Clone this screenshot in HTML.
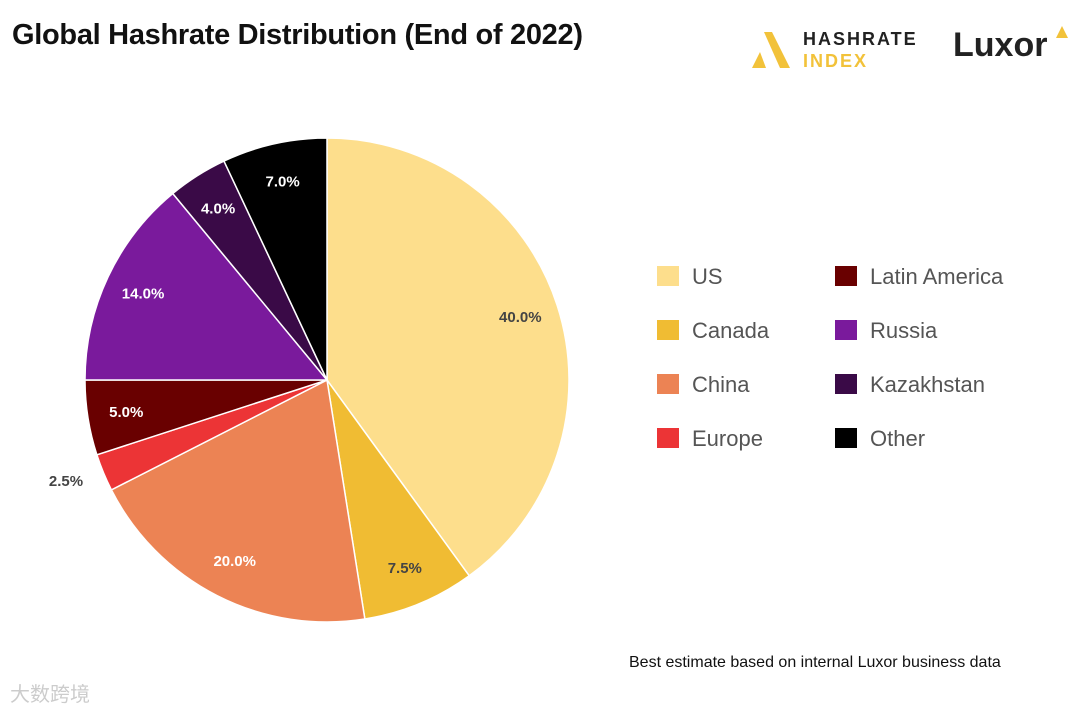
<!DOCTYPE html>
<html><head><meta charset="utf-8"><style>
body{margin:0;width:1080px;height:710px;background:#fff;overflow:hidden;font-family:"Liberation Sans",sans-serif;position:relative}
.t{position:absolute}
</style></head><body>
<div class="t" style="left:12px;top:19px;font-size:29px;font-weight:bold;color:#111;letter-spacing:-0.3px">Global Hashrate Distribution (End of 2022)</div>
<div>
<svg class="t" style="left:750px;top:30px" width="42" height="40" viewBox="0 0 42 40"><polygon points="14,2 22,2 40,38 30,38" fill="#f2c23a"/><polygon points="2,38 10,22 16,38" fill="#f2c23a"/></svg>
<div class="t" style="left:803px;top:29px;font-size:18px;font-weight:bold;letter-spacing:2px;color:#222">HASHRATE</div>
<div class="t" style="left:803px;top:51px;font-size:18px;font-weight:bold;letter-spacing:2px;color:#f2c23a">INDEX</div>
</div>
<div class="t" style="left:953px;top:26px;font-size:34px;font-weight:bold;color:#222">Luxor</div>
<svg class="t" style="left:1055px;top:25px" width="14" height="14"><polygon points="7,1 13,13 1,13" fill="#f2c23a"/></svg>
<svg class="t" id="pie" style="left:0;top:0" width="1080" height="710"></svg>
<div class="t" style="left:629px;top:654px;font-size:16px;color:#111">Best estimate based on internal Luxor business data</div>
<div class="t" style="left:10px;top:678px;font-size:20px;color:#ccc">大数跨境</div>
<script>
const categories=["US","Canada","China","Europe","Latin America","Russia","Kazakhstan","Other"];
const shares=[40,7.5,20,2.5,5,14,4,7];
const colors=["#FDDE8C","#F0BC33","#EC8354","#EC3436","#690000","#7A1A9C","#3A0A47","#000000"];
const legendOrder=[0,4,1,5,2,6,3,7];
const ns="http://www.w3.org/2000/svg";
const svg=document.getElementById('pie');
const cx=327,cy=380,R=242;
const total=shares.reduce((a,b)=>a+b,0);
let a0=0;
function pt(a,r){return [cx+r*Math.sin(a),cy-r*Math.cos(a)];}
shares.forEach((v,i)=>{
  const a1=a0+v/total*2*Math.PI;
  const p0=pt(a0,R),p1=pt(a1,R);
  const p=document.createElementNS(ns,'path');
  p.setAttribute('d',`M${cx},${cy}L${p0[0]},${p0[1]}A${R},${R} 0 ${a1-a0>Math.PI?1:0} 1 ${p1[0]},${p1[1]}Z`);
  p.setAttribute('fill',colors[i]);p.setAttribute('stroke','#fff');p.setAttribute('stroke-width','1.5');
  
  
  svg.appendChild(p);
  const am=(a0+a1)/2;
  const small=v<3;
  const lp=pt(am,small?R+22:R*0.84);
  const t=document.createElementNS(ns,'text');
  t.setAttribute('x',lp[0]);t.setAttribute('y',lp[1]+5);
  t.setAttribute('text-anchor',small?'end':'middle');
  t.setAttribute('font-size','15');t.setAttribute('font-weight','bold');
  t.setAttribute('font-family','Liberation Sans, sans-serif');
  const dark=(i===0||i===1||small);
  t.setAttribute('fill',dark?'#444':'#fff');
  t.textContent=v.toFixed(1)+'%';
  
  
  svg.appendChild(t);
  a0=a1;
});
legendOrder.forEach((ci,k)=>{
  const col=k%2,row=Math.floor(k/2);
  const x=657+col*178,y=266+row*54;
  const r=document.createElementNS(ns,'rect');
  r.setAttribute('x',x);r.setAttribute('y',y);r.setAttribute('width',22);r.setAttribute('height',20);
  r.setAttribute('fill',colors[ci]);
  
  
  svg.appendChild(r);
  const t=document.createElementNS(ns,'text');
  t.setAttribute('x',x+35);t.setAttribute('y',y+18);
  t.setAttribute('font-size','22');t.setAttribute('fill','#555');
  t.setAttribute('font-family','Liberation Sans, sans-serif');
  t.textContent=categories[ci];
  
  
  svg.appendChild(t);
});
</script>
</body></html>
